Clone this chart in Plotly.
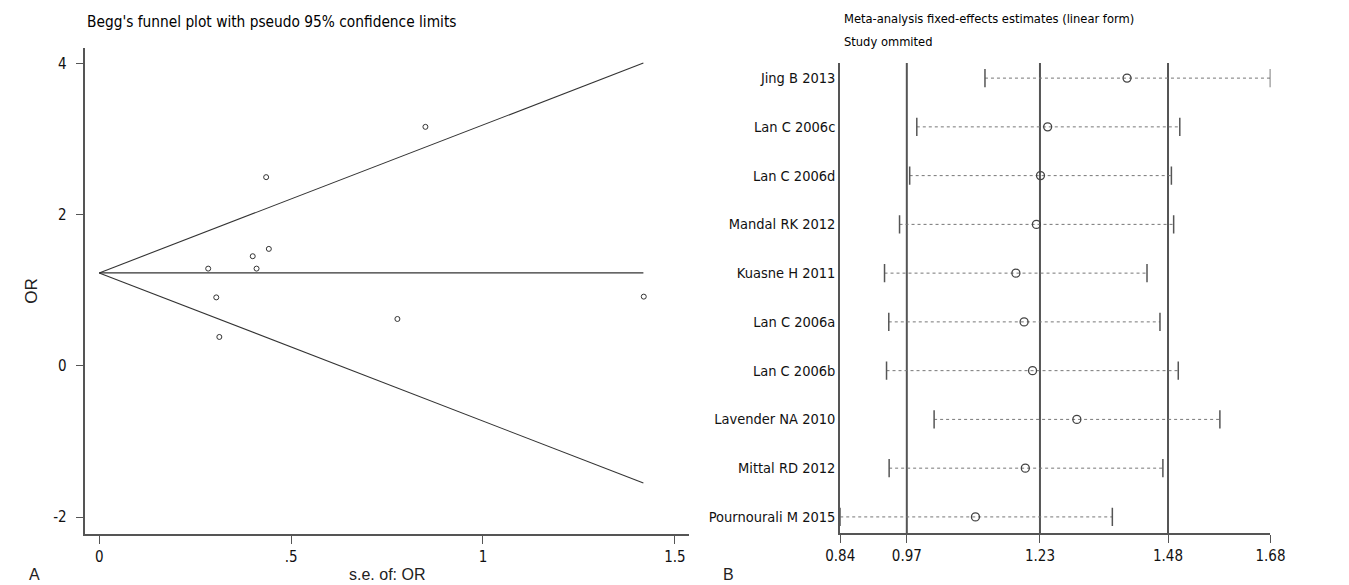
import plotly.graph_objects as go

# ---------- Panel A: Begg's funnel plot ----------
se_or = [0.850, 0.435, 0.442, 0.400, 0.284, 0.410, 0.305, 0.313, 0.777, 1.419]
or_val = [3.166, 2.50, 1.55, 1.453, 1.289, 1.289, 0.908, 0.384, 0.622, 0.918]
funnel_x = [0, 1.418]
pooled_y = [1.232, 1.232]
upper_y = [1.232, 4.01]
lower_y = [1.232, -1.55]
a_xticks = [0, 0.5, 1, 1.5]
a_xticktext = ["0", ".5", "1", "1.5"]
a_yticks = [-2, 0, 2, 4]
a_yticktext = ["-2", "0", "2", "4"]

# ---------- Panel B: leave-one-out sensitivity ----------
studies = ["Jing B 2013", "Lan C 2006c", "Lan C 2006d", "Mandal RK 2012", "Kuasne H 2011",
           "Lan C 2006a", "Lan C 2006b", "Lavender NA 2010", "Mittal RD 2012", "Pournourali M 2015"]
est = [1.400, 1.245, 1.231, 1.223, 1.183, 1.199, 1.2155, 1.302, 1.2014, 1.104]
lower = [1.1226, 0.9895, 0.9756, 0.9558, 0.9265, 0.9348, 0.9304, 1.0233, 0.9355, 0.84]
upper = [1.68, 1.503, 1.4866, 1.491, 1.439, 1.4643, 1.500, 1.5813, 1.470, 1.3713]
ref_lines = [0.97, 1.23, 1.48]
b_xticks = [0.84, 0.97, 1.23, 1.48, 1.68]
b_xticktext = ["0.84", "0.97", "1.23", "1.48", "1.68"]

FONT = "DejaVu Sans Condensed, Liberation Sans Narrow, Arial Narrow, sans-serif"
REG = "Liberation Sans, Arial, sans-serif"
AX = "#555555"
W, H = 1349, 585

fig = go.Figure()

for yy in (pooled_y, upper_y, lower_y):
    fig.add_trace(go.Scatter(x=funnel_x, y=yy, mode="lines",
                             line=dict(color="#333333", width=1.1),
                             xaxis="x", yaxis="y", hoverinfo="skip"))
fig.add_trace(go.Scatter(x=se_or, y=or_val, mode="markers",
                         marker=dict(symbol="circle-open", size=5, color="#333333",
                                     line=dict(width=1)),
                         xaxis="x", yaxis="y"))

rows = list(range(1, len(studies) + 1))
lx, ly = [], []
for i, lo, hi in zip(rows, lower, upper):
    lx += [lo, hi, None]
    ly += [i, i, None]
fig.add_trace(go.Scatter(x=lx, y=ly, mode="lines",
                         line=dict(color="#777777", width=1, dash="dot"),
                         xaxis="x2", yaxis="y2", hoverinfo="skip"))
fig.add_trace(go.Scatter(x=lower + upper, y=rows + rows, mode="markers",
                         marker=dict(symbol="line-ns-open", size=13, color="#555555",
                                     line=dict(width=1.5, color="#555555")),
                         xaxis="x2", yaxis="y2", hoverinfo="skip"))
fig.add_trace(go.Scatter(x=est, y=rows, mode="markers",
                         marker=dict(symbol="circle-open", size=8, color="#444444",
                                     line=dict(width=1.3, color="#444444")),
                         xaxis="x2", yaxis="y2"))

for v in ref_lines:
    fig.add_shape(type="line", xref="x2", yref="y2 domain", x0=v, x1=v, y0=0, y1=1,
                  line=dict(color="#555555", width=2), layer="below")


def px_x(p):
    return p / W


def px_y(p):
    return 1 - p / H


fig.update_layout(
    width=W, height=H, margin=dict(l=0, r=0, t=0, b=0), autosize=False,
    paper_bgcolor="white", plot_bgcolor="white", showlegend=False,
    font=dict(family=FONT, size=15, color="#111111"),
    xaxis=dict(domain=[px_x(72), px_x(689)], range=[-0.036, 1.536],
               tickvals=a_xticks, ticktext=a_xticktext, ticks="outside", ticklen=8,
               tickcolor=AX, showline=True, linecolor=AX, linewidth=1.5,
               showgrid=False, zeroline=False, anchor="y",
               tickfont=dict(size=15)),
    yaxis=dict(domain=[px_y(534), px_y(48)], range=[-2.225, 4.21],
               tickvals=a_yticks, ticktext=a_yticktext, ticks="outside", ticklen=8,
               tickcolor=AX, showline=True, linecolor=AX, linewidth=1.5,
               showgrid=False, zeroline=False, anchor="x", ticklabelstandoff=6,
               tickfont=dict(size=15)),
    xaxis2=dict(domain=[px_x(844), px_x(1284)], range=[0.84, 1.68],
                tickvals=b_xticks, ticktext=b_xticktext, ticks="outside", ticklen=8,
                tickcolor=AX, showline=True, linecolor=AX, linewidth=1.5,
                showgrid=False, zeroline=False, anchor="y2",
                tickfont=dict(size=15)),
    yaxis2=dict(domain=[px_y(533), px_y(63)], range=[10.33, 0.69],
                tickvals=rows, ticktext=studies, ticks="",
                showline=True, linecolor=AX, linewidth=2,
                showgrid=False, zeroline=False, anchor="x2",
                tickfont=dict(size=14.5)),
)

ann = [
    dict(text="Begg's funnel plot with pseudo 95% confidence limits", x=px_x(72), y=px_y(22),
         xanchor="left", yanchor="middle", font=dict(family=FONT, size=15.3, color="#000000")),
    dict(text="Meta-analysis fixed-effects estimates (linear form)", x=px_x(846), y=px_y(18),
         xanchor="left", yanchor="middle", font=dict(family=FONT, size=12.8, color="#000000")),
    dict(text="Study ommited", x=px_x(846), y=px_y(42),
         xanchor="left", yanchor="middle", font=dict(family=FONT, size=12.8, color="#000000")),
    dict(text="OR", x=px_x(16), y=px_y(291), textangle=-90,
         xanchor="center", yanchor="middle", font=dict(family=REG, size=17, color="#222222")),
    dict(text="s.e. of: OR", x=px_x(380), y=px_y(574),
         xanchor="center", yanchor="middle", font=dict(family=REG, size=16, color="#222222")),
    dict(text="A", x=px_x(20), y=px_y(574),
         xanchor="center", yanchor="middle", font=dict(family=REG, size=16, color="#222222")),
    dict(text="B", x=px_x(730), y=px_y(574),
         xanchor="center", yanchor="middle", font=dict(family=REG, size=16, color="#222222")),
]
for a in ann:
    a.update(xref="paper", yref="paper", showarrow=False)
    fig.add_annotation(**a)

post = (
    "document.documentElement.style.margin='0';"
    "document.documentElement.style.overflow='hidden';"
    "document.body.style.margin='0';"
    "document.body.style.padding='0';"
    "document.body.style.overflow='hidden';"
    "var gd=document.getElementById('{plot_id}');"
    "Plotly.relayout(gd,{width:%d,height:%d});" % (W, H)
)

fig.write_html("out.html", config={"responsive": False, "displayModeBar": False},
               post_script=post)
